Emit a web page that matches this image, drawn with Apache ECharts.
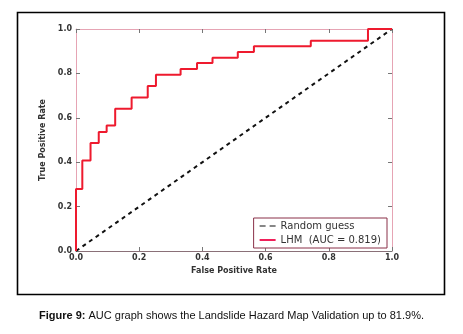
<!DOCTYPE html>
<html>
<head>
<meta charset="utf-8">
<script src="https://cdn.jsdelivr.net/npm/echarts@6/dist/echarts.min.js"></script>
<style>
  html, body { margin: 0; padding: 0; background: #fff; }
  #roc_chart { width: 463px; height: 334px; }
</style>
</head>
<body>
<div id="roc_chart"></div>
<script>
  // ROC step curve (FPR, TPR)
  const rocFpr = [0, 0, 0.020, 0.020, 0.046, 0.046, 0.072, 0.072, 0.097, 0.097, 0.124, 0.124, 0.176, 0.176, 0.227, 0.227, 0.253, 0.253, 0.331, 0.331, 0.383, 0.383, 0.432, 0.432, 0.512, 0.512, 0.563, 0.563, 0.743, 0.743, 0.924, 0.924, 1.0];
  const rocTpr = [0, 0.279, 0.279, 0.408, 0.408, 0.486, 0.486, 0.536, 0.536, 0.565, 0.565, 0.641, 0.641, 0.692, 0.692, 0.743, 0.743, 0.794, 0.794, 0.820, 0.820, 0.847, 0.847, 0.871, 0.871, 0.896, 0.896, 0.922, 0.922, 0.947, 0.947, 1.0, 1.0];
  const guessX = [0, 1];
  const guessY = [0, 1];
  const tickLabels = ['0.0', '0.2', '0.4', '0.6', '0.8', '1.0'];

  const chart = echarts.init(document.getElementById('roc_chart'));

  const frameColor = '#e6a4b4';
  const labelStyle = { color: '#333', fontSize: 8, fontFamily: 'DejaVu Sans', fontWeight: 'bold' };
  const fmt = v => tickLabels[Math.round(v * 5)];

  const plainAxis = (pos) => ({
    type: 'value', min: 0, max: 1, interval: 0.2, position: pos,
    axisLine: { show: true, onZero: false, lineStyle: { color: frameColor, width: 1 } },
    axisTick: { show: true, inside: true, length: 4, lineStyle: { color: '#777' } },
    axisLabel: { show: false },
    splitLine: { show: false }
  });

  chart.setOption({
    animation: false,
    title: {
      text: '{b|Figure 9:} AUC graph shows the Landslide Hazard Map Validation up to 81.9%.',
      left: 'center',
      top: 305,
      textStyle: {
        fontSize: 11, fontWeight: 'normal', color: '#111', fontFamily: 'Liberation Sans',
        rich: { b: { fontSize: 11, fontWeight: 'bold', color: '#111', fontFamily: 'Liberation Sans' } }
      }
    },
    graphic: [{
      type: 'rect', shape: { x: 17.5, y: 12.5, width: 427, height: 282 },
      style: { fill: 'none', stroke: '#000', lineWidth: 1.6 }, silent: true, z: -1
    }],
    grid: { left: 76, right: 71, top: 29, bottom: 83 },
    legend: {
      orient: 'vertical',
      right: 76, top: 218,
      itemWidth: 16, itemHeight: 2, itemGap: 4,
      padding: [3, 6, 3, 6],
      borderColor: '#8a3048', borderWidth: 1,
      backgroundColor: '#fff',
      textStyle: { fontSize: 10, color: '#333', fontFamily: 'DejaVu Sans' },
      data: [
        { name: 'Random guess', icon: 'path://M0,0H6V1H0Z M10,0H16V1H10Z', itemStyle: { color: '#111' } },
        { name: 'LHM  (AUC = 0.819)', icon: 'rect', itemStyle: { color: '#f0205a' } }
      ]
    },
    xAxis: [
      {
        type: 'value', min: 0, max: 1, interval: 0.2, position: 'bottom',
        name: 'False Positive Rate', nameLocation: 'middle', nameGap: 13,
        nameTextStyle: { fontSize: 8, color: '#333', fontFamily: 'DejaVu Sans', fontWeight: 'bold' },
        axisLine: { show: true, onZero: false, lineStyle: { color: '#8a7078', width: 1 } },
        axisTick: { show: true, inside: true, length: 4, lineStyle: { color: '#777' } },
        axisLabel: Object.assign({ formatter: fmt, margin: 3 }, labelStyle),
        splitLine: { show: false }
      },
      plainAxis('top')
    ],
    yAxis: [
      {
        type: 'value', min: 0, max: 1, interval: 0.2, position: 'left',
        name: 'True Positive Rate', nameLocation: 'middle', nameGap: 23,
        nameTextStyle: { fontSize: 8, color: '#333', fontFamily: 'DejaVu Sans', fontWeight: 'bold' },
        axisLine: { show: true, onZero: false, lineStyle: { color: frameColor, width: 1 } },
        axisTick: { show: true, inside: true, length: 4, lineStyle: { color: '#777' } },
        axisLabel: Object.assign({ formatter: fmt, margin: 4 }, labelStyle),
        splitLine: { show: false }
      },
      plainAxis('right')
    ],
    series: [
      {
        name: 'Random guess', type: 'line', symbol: 'none',
        data: guessX.map((x, i) => [x, guessY[i]]),
        lineStyle: { color: '#111', width: 2, type: [4, 4] },
        z: 2
      },
      {
        name: 'LHM  (AUC = 0.819)', type: 'line', symbol: 'none',
        data: rocFpr.map((x, i) => [x, rocTpr[i]]),
        lineStyle: { color: '#ee1a2e', width: 2 },
        z: 3
      }
    ]
  });
</script>
</body>
</html>
